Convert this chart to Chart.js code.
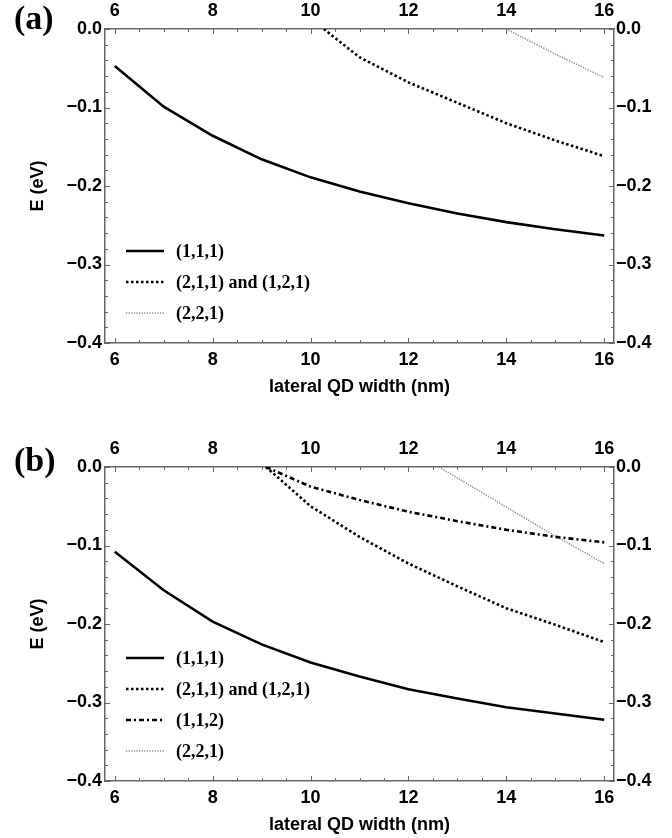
<!DOCTYPE html>
<html>
<head>
<meta charset="utf-8">
<script src="https://cdn.jsdelivr.net/npm/chart.js@4.4.1/dist/chart.umd.min.js"></script>
<style>
  html, body { margin: 0; padding: 0; background: #fff; }
  body { width: 672px; height: 838px; position: relative; overflow: hidden; }
  canvas { position: absolute; left: 0; }
  #chartA { top: 0; }
  #chartB { top: 438px; }
</style>
</head>
<body>
<canvas id="chartA" width="672" height="400"></canvas>
<canvas id="chartB" width="672" height="400"></canvas>
<script>
// tick labels shared by both panels
var xTicks = [6, 8, 10, 12, 14, 16];
var yTicks = [-0.4, -0.3, -0.2, -0.1, 0];

// panel (a)
var xA111 = [6, 7, 8, 9, 10, 11, 12, 13, 14, 15, 16];
var eA111 = [-0.047, -0.099, -0.136, -0.166, -0.189, -0.207, -0.222, -0.235, -0.246, -0.255, -0.263];
var xA211 = [10.27, 11, 12, 13, 14, 15, 16];
var eA211 = [0, -0.036, -0.068, -0.094, -0.120, -0.142, -0.162];
var xA221 = [14, 15, 16];
var eA221 = [0, -0.032, -0.062];

// panel (b)
var xB111 = [6, 7, 8, 9, 10, 11, 12, 13, 14, 15, 16];
var eB111 = [-0.108, -0.157, -0.197, -0.226, -0.249, -0.267, -0.283, -0.295, -0.306, -0.314, -0.322];
var xB211 = [9.09, 10, 11, 12, 13, 14, 15, 16];
var eB211 = [0, -0.050, -0.089, -0.123, -0.152, -0.180, -0.201, -0.223];
var xB112 = [9.09, 10, 11, 12, 13, 14, 15, 16];
var eB112 = [0, -0.025, -0.042, -0.057, -0.069, -0.080, -0.089, -0.096];
var xB221 = [12.62, 13, 14, 15, 16];
var eB221 = [0, -0.014, -0.051, -0.088, -0.123];

var labels111 = '(1,1,1)';
var labels211 = '(2,1,1) and (1,2,1)';
var labels112 = '(1,1,2)';
var labels221 = '(2,2,1)';

function pts(xs, ys) {
  return xs.map(function (x, i) { return { x: x, y: ys[i] }; });
}

var frameColor = '#666';
var tickFont = { family: 'Liberation Sans', weight: 'bold', size: 18 };

var styles = {
  solid:   { borderColor: '#000', borderWidth: 2.6, borderDash: [] },
  dotted:  { borderColor: '#000', borderWidth: 2.6, borderDash: [2.5, 2.5] },
  dashdot: { borderColor: '#000', borderWidth: 2.6, borderDash: [5, 3, 2, 3] },
  gray:    { borderColor: '#8a8a8a', borderWidth: 1.6, borderDash: [1.2, 1.4] }
};

function ds(label, data, st) {
  return {
    label: label,
    data: data,
    borderColor: st.borderColor,
    borderWidth: st.borderWidth,
    borderDash: st.borderDash,
    pointRadius: 0,
    tension: 0,
    fill: false
  };
}

// inward frame ticks, like the original frame
var frameTicks = {
  id: 'frameTicks',
  afterDatasetsDraw: function (chart) {
    var ctx = chart.ctx, a = chart.chartArea;
    var xs = chart.scales.x, ys = chart.scales.y;
    ctx.save();
    ctx.strokeStyle = frameColor;
    ctx.lineWidth = 1;
    ctx.beginPath();
    for (var v = 6; v <= 16.001; v += 0.5) {
      var px = Math.round(xs.getPixelForValue(v)) + 0.5;
      var len = (Math.abs(v % 2) < 1e-6) ? 5 : 3;
      ctx.moveTo(px, a.bottom); ctx.lineTo(px, a.bottom - len);
      ctx.moveTo(px, a.top); ctx.lineTo(px, a.top + len);
    }
    for (var k = 0; k <= 20; k++) {
      var val = -0.4 + k * 0.02;
      var py = Math.round(ys.getPixelForValue(val)) + 0.5;
      var l2 = (k % 5 === 0) ? 5 : 3;
      ctx.moveTo(a.left, py); ctx.lineTo(a.left + l2, py);
      ctx.moveTo(a.right, py); ctx.lineTo(a.right - l2, py);
    }
    ctx.stroke();
    ctx.restore();
  }
};

// legend inside the lower-left corner of the plot
var innerLegend = {
  id: 'innerLegend',
  afterDraw: function (chart) {
    var ctx = chart.ctx, a = chart.chartArea;
    var sets = chart.data.datasets;
    var n = sets.length;
    ctx.save();
    ctx.font = 'bold 18px "Liberation Serif"';
    ctx.textBaseline = 'middle';
    ctx.textAlign = 'left';
    ctx.fillStyle = '#000';
    sets.forEach(function (d, i) {
      var y = a.bottom - 30 - (n - 1 - i) * 31;
      ctx.save();
      ctx.strokeStyle = d.borderColor;
      ctx.lineWidth = d.borderWidth;
      ctx.setLineDash(d.borderDash || []);
      ctx.beginPath();
      ctx.moveTo(a.left + 21, y);
      ctx.lineTo(a.left + 59, y);
      ctx.stroke();
      ctx.restore();
      ctx.fillText(d.label, a.left + 71, y + 1);
    });
    ctx.restore();
  }
};

var panelLabel = {
  id: 'panelLabel',
  afterDraw: function (chart) {
    var o = chart.options.plugins.panelLabel;
    var ctx = chart.ctx;
    ctx.save();
    ctx.font = 'bold 34px "Liberation Serif"';
    ctx.fillStyle = '#000';
    ctx.textBaseline = 'middle';
    ctx.fillText(o.text, 14, o.y);
    ctx.restore();
  }
};

function fmtY(v) {
  if (Math.abs(v) < 1e-9) return '0.0';
  return '\u2212' + Math.abs(v).toFixed(1);
}

function xAxis(pos, withTitle) {
  return {
    type: 'linear',
    position: pos,
    min: 5.8,
    max: 16.2,
    afterBuildTicks: function (s) { s.ticks = xTicks.map(function (v) { return { value: v }; }); },
    afterFit: function (s) { s.height = pos === 'bottom' ? 57 : 29; },
    grid: { drawOnChartArea: false, drawTicks: false },
    border: { color: frameColor, width: 1.5 },
    ticks: { color: '#000', font: tickFont, padding: pos === 'bottom' ? 6 : 7, maxRotation: 0, autoSkip: false },
    title: {
      display: withTitle,
      text: 'lateral QD width (nm)',
      color: '#000',
      font: { family: 'Liberation Sans', weight: 'bold', size: 18 },
      padding: { top: 0, bottom: 2 }
    }
  };
}

function yAxis(pos, withTitle) {
  return {
    type: 'linear',
    position: pos,
    min: -0.4,
    max: 0,
    afterBuildTicks: function (s) { s.ticks = yTicks.map(function (v) { return { value: v }; }); },
    afterFit: function (s) { s.width = pos === 'left' ? 105 : 58; },
    grid: { drawOnChartArea: false, drawTicks: false },
    border: { color: frameColor, width: 1.5 },
    ticks: { color: '#000', font: tickFont, padding: pos === 'left' ? 3 : 2, callback: fmtY, autoSkip: false },
    title: {
      display: withTitle,
      text: 'E (eV)',
      color: '#000',
      font: { family: 'Liberation Sans', weight: 'bold', size: 18 },
      padding: { top: 27, bottom: 0 }
    }
  };
}

function makeChart(id, datasets, label, labelY) {
  var ctx = document.getElementById(id).getContext('2d');
  return new Chart(ctx, {
    type: 'line',
    data: { datasets: datasets },
    options: {
      responsive: false,
      animation: false,
      devicePixelRatio: 1,
      layout: { padding: 0 },
      plugins: {
        legend: { display: false },
        tooltip: { enabled: false },
        panelLabel: { text: label, y: labelY }
      },
      scales: {
        x: xAxis('bottom', true),
        x2: xAxis('top', false),
        y: yAxis('left', true),
        y2: yAxis('right', false)
      }
    },
    plugins: [frameTicks, innerLegend, panelLabel]
  });
}

makeChart('chartA', [
  ds(labels111, pts(xA111, eA111), styles.solid),
  ds(labels211, pts(xA211, eA211), styles.dotted),
  ds(labels221, pts(xA221, eA221), styles.gray)
], '(a)', 20);

makeChart('chartB', [
  ds(labels111, pts(xB111, eB111), styles.solid),
  ds(labels211, pts(xB211, eB211), styles.dotted),
  ds(labels112, pts(xB112, eB112), styles.dashdot),
  ds(labels221, pts(xB221, eB221), styles.gray)
], '(b)', 24);
</script>
</body>
</html>
